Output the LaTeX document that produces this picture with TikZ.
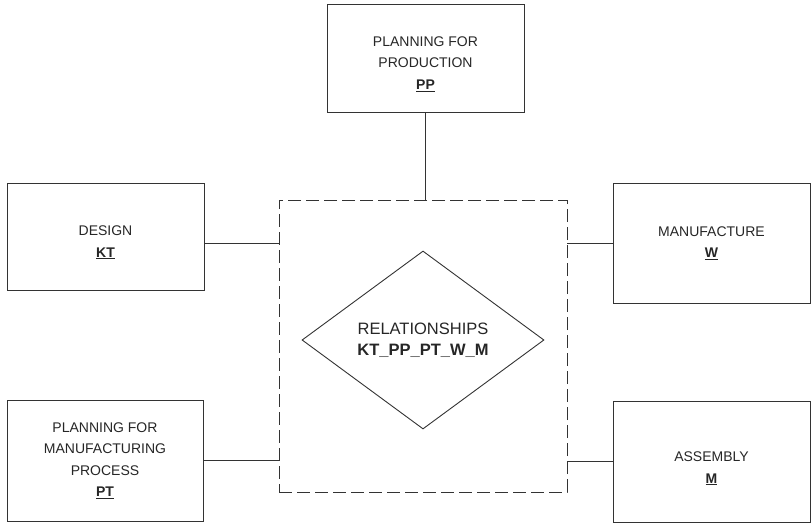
\documentclass[tikz,border=0pt]{standalone}
\usepackage{fontspec}
\setmainfont{Liberation Sans}
\usetikzlibrary{shapes.geometric,calc}

\tikzset{
  box/.style={shape=rectangle,draw=black!80,line width=0.9pt,align=center,
    text=black!85,inner sep=0pt,font=\fontsize{14}{21.5}\selectfont},
  boxtext/.style={align=center,text=black!85,inner sep=0pt,font=\fontsize{14}{21.5}\selectfont},
  relbox/.style={shape=rectangle,draw=black!80,line width=0.9pt,dash pattern=on 13pt off 5pt},
  every edge/.style={draw=black!80,line width=0.9pt}
}

\begin{document}
\begin{tikzpicture}[x=1pt,y=-1pt]
\useasboundingbox (0,0) rectangle (811,527);
\node[relbox,minimum width=288pt,minimum height=292pt] (REL) at (423,346) {};
\node[shape=diamond,draw=black!80,line width=0.9pt,inner sep=0pt,aspect=1.36,
  minimum width=242pt,minimum height=178pt,align=center,text=black!85,
  font=\fontsize{16.5}{21.5}\selectfont] (R) at (423,340) {RELATIONSHIPS\\\textbf{KT\_PP\_PT\_W\_M}};
\node[box,minimum width=197pt,minimum height=108pt,
  label={[boxtext,yshift=-6pt]center:{PLANNING FOR\\PRODUCTION\\\underline{\textbf{PP}}}}] (PP) at (425.5,58) {};
\node[box,minimum width=197pt,minimum height=107pt,
  label={[boxtext,yshift=-6pt]center:{DESIGN\\\underline{\textbf{KT}}}}] (KT) at (105.5,236.5) {};
\node[box,minimum width=197pt,minimum height=120pt] (W) at (711.5,243) {MANUFACTURE\\\underline{\textbf{W}}};
\node[box,minimum width=196pt,minimum height=121pt] (PT) at (105,460.5) {PLANNING FOR\\MANUFACTURING\\PROCESS\\\underline{\textbf{PT}}};
\node[box,minimum width=197pt,minimum height=121pt,
  label={[boxtext,yshift=-7pt]center:{ASSEMBLY\\\underline{\textbf{M}}}}] (M) at (711.5,461.5) {};
\coordinate (KTout) at ($(KT.north east)!0.56!(KT.south east)$);
\path [] (PP.south) edge (PP.south |- REL.north);
\path [] (KTout) edge (KTout -| REL.west);
\path [] (W.west) edge (W.west -| REL.east);
\path [] (PT.east) edge (PT.east -| REL.west);
\path [] (M.west) edge (M.west -| REL.east);
\end{tikzpicture}
\end{document}
